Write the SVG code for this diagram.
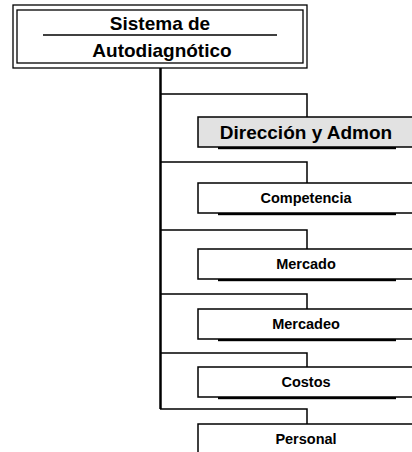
<svg xmlns="http://www.w3.org/2000/svg" width="412" height="452" viewBox="0 0 412 452">
  <style>
    .bg { fill: #ffffff; }
    .frame { fill: none; stroke: #000; stroke-width: 1.3; }
    .rule { stroke: #000; stroke-width: 1.5; }
    .box { fill: #ffffff; stroke: #000; stroke-width: 1.5; }
    .box.shaded { fill: #e2e2e2; }
    .shadow { fill: #000; }
    .link { fill: none; stroke: #000; stroke-width: 1.5; }
    .trunk { fill: none; stroke: #000; stroke-width: 2.5; }
    text { font-family: "Liberation Sans", Arial, sans-serif; font-weight: bold; fill: #000; text-anchor: middle; }
    .title { font-size: 19px; }
    .big { font-size: 19px; }
    .small { font-size: 14.5px; }
  </style>
  <rect class="bg" x="0" y="0" width="412" height="452"/>

  <g id="connectors">
    <line class="trunk" x1="160.5" y1="68" x2="160.5" y2="409"/>
    <polyline class="link" points="160,94 307,94 307,117"/>
    <polyline class="link" points="160,162 307,162 307,183"/>
    <polyline class="link" points="160,230 307,230 307,249"/>
    <polyline class="link" points="160,294 307,294 307,309"/>
    <polyline class="link" points="160,353 307,353 307,367"/>
    <polyline class="link" points="160,409 307,409 307,424"/>
  </g>

  <g id="root">
    <rect class="frame" x="13" y="5" width="294" height="63"/>
    <rect class="frame" x="17" y="10" width="286" height="53"/>
    <line class="rule" x1="43" y1="35" x2="277" y2="35"/>
    <text class="title" x="160" y="30">Sistema de</text>
    <text class="title" x="162" y="57">Autodiagnótico</text>
  </g>

  <g id="direccion">
    <rect class="box shaded" x="198" y="117" width="220" height="30"/>
    <rect class="shadow" x="218" y="147" width="178" height="2.2"/>
    <text class="big" x="306" y="139">Dirección y Admon</text>
  </g>

  <g id="competencia">
    <rect class="box" x="198" y="183" width="220" height="30"/>
    <rect class="shadow" x="218" y="213" width="178" height="2.2"/>
    <text class="small" x="306" y="203">Competencia</text>
  </g>

  <g id="mercado">
    <rect class="box" x="198" y="249" width="220" height="30"/>
    <rect class="shadow" x="218" y="279" width="178" height="2.2"/>
    <text class="small" x="306" y="269">Mercado</text>
  </g>

  <g id="mercadeo">
    <rect class="box" x="198" y="309" width="220" height="30"/>
    <rect class="shadow" x="218" y="339" width="178" height="2.2"/>
    <text class="small" x="306" y="329">Mercadeo</text>
  </g>

  <g id="costos">
    <rect class="box" x="198" y="367" width="220" height="30"/>
    <rect class="shadow" x="218" y="397" width="178" height="2.2"/>
    <text class="small" x="306" y="387">Costos</text>
  </g>

  <g id="personal">
    <rect class="box" x="198" y="424" width="220" height="40"/>
    <text class="small" x="306" y="444">Personal</text>
  </g>
</svg>
